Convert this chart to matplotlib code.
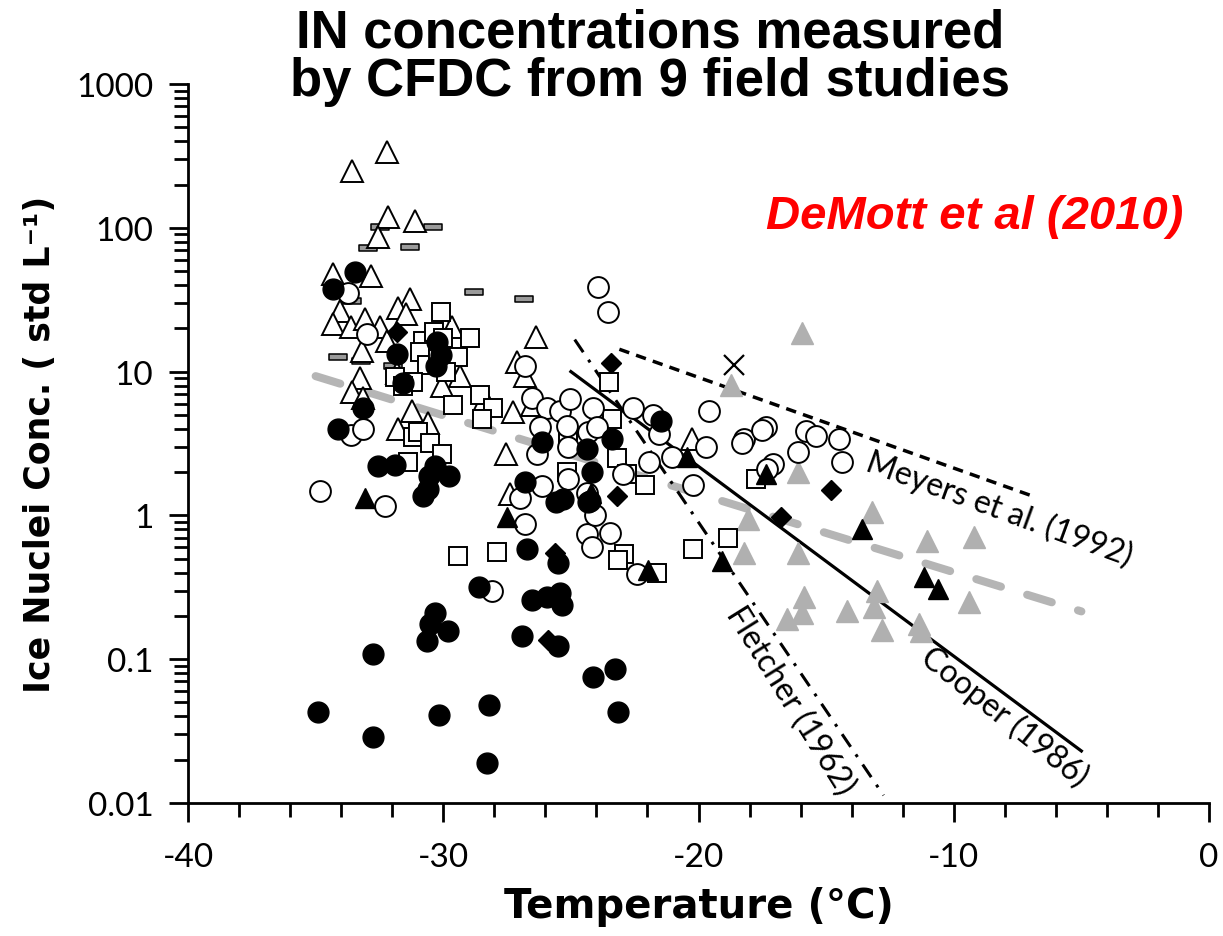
import matplotlib
matplotlib.use("Agg")
import matplotlib.pyplot as plt
from matplotlib.path import Path
import numpy as np

plt.rcParams["axes.unicode_minus"] = False

# ---------------- data ----------------
tri_open_T = [-32.21, -33.58, -32.17, -31.12, -32.56, -34.32, -32.84, -31.31, -31.78, -31.47,
              -34.05, -34.32, -33.62, -33.07, -32.49, -32.21, -33.19, -29.94, -29.67, -26.38,
              -27.12, -26.81, -33.27, -29.35, -30.06, -33.58, -31.23, -31.78, -30.61, -27.28,
              -26.54, -27.55, -27.40, -20.27, -33.15, -31.8, -28.38]
tri_open_N = [334, 247, 118, 111, 86, 48, 46, 31.8, 27.9, 25,
              26.2, 21.3, 20.3, 23.4, 20.3, 16.2, 13.8, 20.6, 20.3, 17.3,
              11.6, 9.3, 9.0, 9.3, 7.9, 7.2, 5.3, 4.0, 4.4, 5.2,
              5.9, 2.66, 1.40, 3.38, 6.6, 9.8, 6.4]

bar_T = [-32.49, -30.41, -32.96, -31.31, -33.58, -28.81, -26.85, -34.13, -33.23, -31.98]
bar_N = [102, 102, 72, 73, 30.8, 36, 31.8, 12.6, 11.8, 10.9]

circ_fill_T = [-33.46, -34.32, -31.82, -30.25, -30.1, -30.3, -31.59, -33.15, -34.13, -32.56,
               -31.90, -30.57, -29.78, -30.33, -30.80, -30.61, -26.15, -26.81, -25.60, -24.38,
               -24.19, -24.34, -26.73, -25.52, -28.61, -26.54, -25.95, -25.44, -25.36, -30.33,
               -30.53, -29.82, -30.65, -32.76, -26.93, -25.52, -24.15, -34.91, -32.76, -30.18,
               -28.22, -28.30, -23.29, -23.17, -21.45, -23.37, -25.3, -24.27]
circ_fill_N = [49, 37.3, 13.2, 16, 13, 11, 8.3, 5.6, 4.0, 2.19,
               2.23, 1.87, 1.87, 2.19, 1.36, 1.52, 3.22, 1.70, 1.23, 2.88,
               1.99, 1.23, 0.58, 0.47, 0.316, 0.26, 0.27, 0.29, 0.24, 0.21,
               0.175, 0.156, 0.133, 0.108, 0.144, 0.123, 0.075, 0.043, 0.0286, 0.041,
               0.048, 0.019, 0.085, 0.043, 4.5, 3.38, 1.29, 1.25]

circ_open_T = [-34.83, -32.29, -33.62, -33.15, -28.10, -26.54, -25.95, -25.44, -25.05, -26.22,
               -25.17, -26.34, -25.13, -25.13, -26.15, -27.01, -26.81, -24.38, -24.19, -24.07,
               -24.38, -24.15, -33.74, -32.99, -26.81, -23.95, -23.56, -22.58, -21.80, -21.53,
               -19.69, -19.57, -20.23, -21.02, -24.34, -23.99, -22.97, -21.92, -23.48, -22.39,
               -18.2, -18.3, -17.34, -17.5, -15.77, -15.38, -14.48, -14.36, -16.12, -17.10,
               -17.30]
circ_open_N = [1.47, 1.17, 3.6, 4.0, 0.30, 6.6, 5.6, 5.3, 6.4, 4.1,
               4.2, 2.66, 3.0, 1.78, 1.59, 1.33, 0.87, 0.74, 0.60, 1.0,
               1.44, 5.6, 35, 18.2, 10.9, 38.5, 25.8, 5.6, 5.0, 3.66,
               2.97, 5.3, 1.64, 2.53, 3.8, 4.1, 1.93, 2.34, 0.76, 0.39,
               3.38, 3.2, 4.09, 3.9, 3.84, 3.54, 3.38, 2.34, 2.74, 2.26,
               2.09]

sq_T = [-30.10, -28.96, -30.80, -30.37, -30.92, -29.43, -30.65, -31.90, -31.19, -28.57,
        -31.59, -29.63, -28.06, -28.49, -31.19, -31.0, -30.53, -30.06, -31.39, -29.43,
        -27.91, -25.17, -23.52, -23.37, -23.21, -22.82, -22.11, -25.13, -22.90, -23.17,
        -21.64, -20.23, -18.86, -17.73, -30.2, -30.0, -29.9]
sq_N = [25.8, 17.0, 16.2, 19, 13.6, 12.6, 11.2, 9.1, 8.4, 6.9,
        7.9, 5.9, 5.6, 4.65, 3.49, 3.8, 3.2, 2.66, 2.34, 0.52,
        0.56, 2.0, 8.4, 4.65, 2.49, 1.93, 1.64, 3.54, 0.54, 0.49,
        0.40, 0.58, 0.70, 1.78, 14, 17, 10]

dia_T = [-23.41, -16.75, -14.79, -23.21, -31.82, -25.64, -25.91]
dia_N = [11.4, 0.98, 1.49, 1.36, 19, 0.55, 0.137]

tri_fill_T = [-20.47, -21.96, -19.06, -17.34, -13.58, -11.16, -10.61, -27.5, -24.2, -33.07]
tri_fill_N = [2.53, 0.42, 0.48, 1.93, 0.80, 0.37, 0.31, 0.98, 1.44, 1.33]

tri_gray_T = [-15.93, -18.71, -16.12, -18.08, -18.20, -16.12, -13.19, -11.04, -9.20, -15.85,
              -15.93, -16.52, -14.20, -12.99, -13.11, -12.83, -11.35, -11.27, -9.39]
tri_gray_N = [18.7, 8.1, 1.99, 0.94, 0.55, 0.55, 1.05, 0.66, 0.71, 0.27,
              0.21, 0.19, 0.215, 0.30, 0.23, 0.16, 0.175, 0.156, 0.25]

x_T = [-18.59]
x_N = [11.2]

# reference curves (endpoints)
demott_T = [-35.0, -5.0]
demott_N = [9.3, 0.215]
meyers_T = [-23.1, -6.9]
meyers_N = [14.3, 1.36]
cooper_T = [-25.0, -5.0]
cooper_N = [10.0, 0.023]
fletcher_T = [-24.85, -12.75]
fletcher_N = [16.7, 0.0113]

x_ticks = [-40, -30, -20, -10, 0]
y_ticks = [0.01, 0.1, 1, 10, 100, 1000]
y_ticklabels = ["0.01", "0.1", "1", "10", "100", "1000"]

# ---------------- figure ----------------
W, H = 1223, 937
fig = plt.figure(figsize=(W / 100, H / 100), dpi=100)
ax = fig.add_axes([188 / W, 1 - 804 / H, (1209 - 188) / W, (804 - 85) / H])

ax.set_yscale("log")
ax.set_xlim(-40, 0)
ax.set_ylim(0.01, 1000)

for s in ["top", "right"]:
    ax.spines[s].set_visible(False)
for s in ["left", "bottom"]:
    ax.spines[s].set_linewidth(2.0)

ax.set_xticks(x_ticks)
ax.set_xticks(np.arange(-38, 0, 2), minor=True)
ax.set_yticks(y_ticks)
ax.set_yticklabels(y_ticklabels)
ax.xaxis.set_minor_formatter(matplotlib.ticker.NullFormatter())
ax.tick_params(which="major", direction="out", length=14, width=2.0, labelsize=24)
ax.tick_params(axis="y", which="major", pad=11)
ax.tick_params(axis="x", which="major", pad=14)
ax.tick_params(which="minor", direction="out", length=10, width=2.0)
for lab in ax.get_xticklabels() + ax.get_yticklabels():
    lab.set_family("Lato")

# reference curves
ax.plot(demott_T, demott_N, color="#b5b5b5", lw=5.8, dashes=(3.2, 3.4),
        dash_capstyle="round", zorder=1)
ax.plot(meyers_T, meyers_N, color="black", lw=2.5, dashes=(3.0, 2.1), zorder=2)
ax.plot(cooper_T, cooper_N, color="black", lw=2.3, zorder=2)
ax.plot(fletcher_T, fletcher_N, color="black", lw=2.2, dashes=(5, 3, 1, 3), zorder=2)

# markers
bar_path = Path([(-1, -0.28), (1, -0.28), (1, 0.28), (-1, 0.28), (-1, -0.28)],
                [Path.MOVETO, Path.LINETO, Path.LINETO, Path.LINETO, Path.CLOSEPOLY])
mew = 1.4
ax.plot(tri_gray_T, tri_gray_N, ls="none", marker="^", ms=16, mfc="#b0b0b0", mec="#b0b0b0", zorder=3)
ax.plot(bar_T, bar_N, ls="none", marker=bar_path, ms=13, mfc="#9a9a9a", mec="black", mew=1.1, zorder=4)
ax.plot(tri_open_T, tri_open_N, ls="none", marker="^", ms=16, mfc="white", mec="black", mew=mew, zorder=4)
ax.plot(sq_T, sq_N, ls="none", marker="s", ms=12.5, mfc="white", mec="black", mew=mew, zorder=4)
ax.plot(circ_open_T, circ_open_N, ls="none", marker="o", ms=15, mfc="white", mec="black", mew=mew, zorder=4)
ax.plot(circ_fill_T, circ_fill_N, ls="none", marker="o", ms=15, mfc="black", mec="black", zorder=5)
ax.plot(dia_T, dia_N, ls="none", marker="D", ms=10.5, mfc="black", mec="black", zorder=5)
ax.plot(tri_fill_T, tri_fill_N, ls="none", marker="^", ms=15, mfc="black", mec="black", zorder=5)
ax.plot(x_T, x_N, ls="none", marker="x", ms=14, mec="black", mew=1.6, zorder=5)

# curve labels
lab_kw = dict(family="Lato", fontsize=23, ha="center", va="center", rotation_mode="anchor", zorder=6)
ax.text(-8.2, 1.13, "Meyers et al. (1992)", rotation=-20, **lab_kw)
ax.text(-16.4, 0.052, "Fletcher (1962)", rotation=-58, **lab_kw)
ax.text(-8.0, 0.040, "Cooper (1986)", rotation=-38.5, **lab_kw)

# axis labels
ax.set_xlabel("Temperature (°C)", family="DejaVu Sans", fontweight="bold", fontsize=29, labelpad=10)
ax.set_ylabel("Ice Nuclei Conc. ( std L\u207b\u00b9)", family="DejaVu Sans",
              fontweight="bold", fontsize=25, labelpad=14)

# title and attribution
fig.text(650 / W, 1 - 8 / H, "IN concentrations measured\nby CFDC from 9 field studies",
         ha="center", va="top", family="Liberation Sans", fontweight="bold",
         fontsize=38, linespacing=0.98)
fig.text(975 / W, 1 - 217 / H, "DeMott et al (2010)", ha="center", va="center",
         family="Liberation Sans", fontweight="bold", style="italic", color="#ff0000", fontsize=34)

fig.savefig("out.png", dpi=100)
